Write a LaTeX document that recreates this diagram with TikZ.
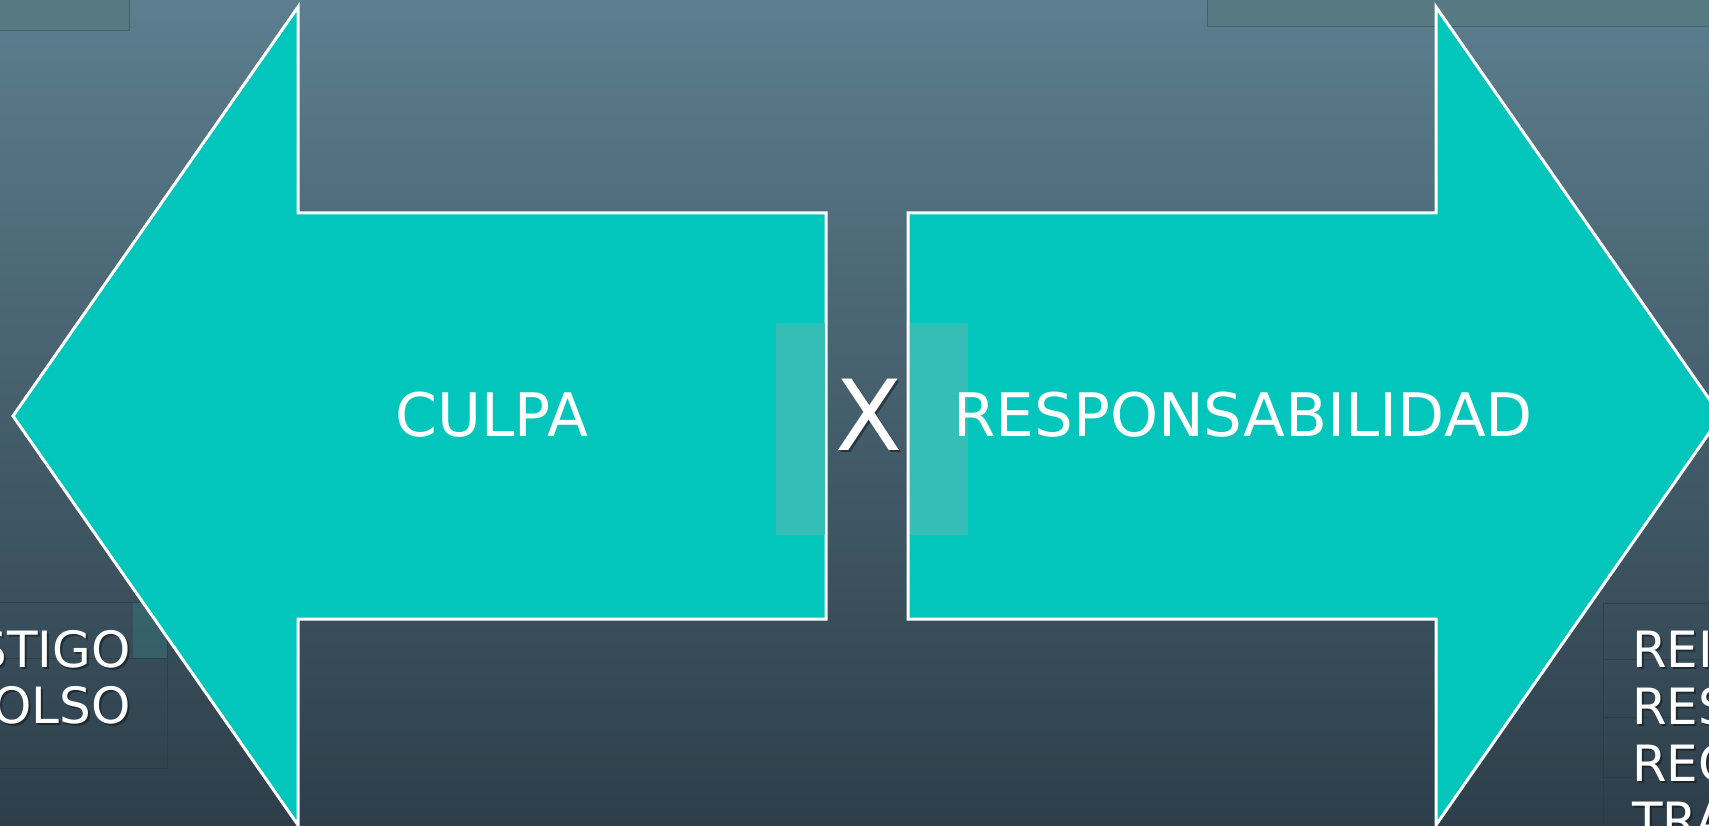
\documentclass[tikz,border=0pt]{standalone}
\usepackage{fontspec}
\setmainfont{DejaVu Sans}
\usepackage{graphicx}
\definecolor{bgtop}{RGB}{92,126,142}
\definecolor{bgbot}{RGB}{45,62,74}
\definecolor{teal}{RGB}{2,198,188}
\definecolor{tealhi}{RGB}{52,190,182}
\definecolor{boxfill}{RGB}{86,121,130}
\definecolor{boxline}{RGB}{70,96,106}
\definecolor{boxline2}{RGB}{40,56,66}
\tikzset{
  arrowshape/.style={fill=teal, draw=white, line width=3pt, line join=miter},
  bigtxt/.style={text=white, inner sep=0pt, font=\fontsize{60}{72}\selectfont},
  xtxt/.style={text=white, inner sep=0pt, font=\fontsize{98}{114}\selectfont},
  sidetxt/.style={text=white, inner sep=0pt, font=\fontsize{50}{60}\selectfont},
  shadowtxt/.style={text=black, text opacity=0.4},
  faintbox/.style={fill=boxfill, draw=boxline, line width=1pt},
  darkbox/.style={draw=boxline2, draw opacity=0.6, line width=1pt},
}
\begin{document}
\begin{tikzpicture}[x=1pt,y=-1pt]
\useasboundingbox (0,0) rectangle (1709,826);
\clip (0,0) rectangle (1709,826);
% background
\shade[top color=bgtop, bottom color=bgbot] (0,0) rectangle (1709,826);
% faint boxes at top
\path[faintbox] (-2,-2) rectangle (129,31);
\path[faintbox] (1207,-2) rectangle (1712,27);
% bottom-left box
\fill[tealhi, opacity=0.18] (133,602) rectangle (167,658);
\path[darkbox] (-2,602) rectangle (167,768);
\draw[boxline2, opacity=0.6, line width=1pt] (-2,658) -- (167,658);
% bottom-right box
\path[darkbox] (1603,603) rectangle (1712,830);
\draw[boxline2, opacity=0.5, line width=1pt] (1603,659) -- (1712,659);
\draw[boxline2, opacity=0.5, line width=1pt] (1603,717) -- (1712,717);
\draw[boxline2, opacity=0.5, line width=1pt] (1603,777) -- (1712,777);
% left arrow
\path[arrowshape] (13,416) -- (298,7) -- (298,213) -- (826,213) -- (826,619) -- (298,619) -- (298,825) -- cycle;
% right arrow
\path[arrowshape] (1721,416) -- (1436,7) -- (1436,213) -- (908,213) -- (908,619) -- (1436,619) -- (1436,825) -- cycle;
% translucent strips
\fill[tealhi] (776,323) rectangle (824.5,535);
\fill[tealhi] (909.5,323) rectangle (968,535);
% labels
\node[bigtxt, anchor=base] (culpa) at (492,436) {CULPA};
\node[bigtxt, anchor=base] (resp) at (1243,436) {\scalebox{1.02}[1]{RESPONSABILIDAD}};
\node[xtxt, shadowtxt, anchor=base] (xs) at (871,452) {X};
\node[xtxt, anchor=base] (x) at (869,450) {X};
% side texts
\node[sidetxt, shadowtxt, anchor=base east] (l1s) at (133,669) {STIGO};
\node[sidetxt, anchor=base east] (l1) at (131,667) {STIGO};
\node[sidetxt, shadowtxt, anchor=base east] (l2s) at (133,725) {OLSO};
\node[sidetxt, anchor=base east] (l2) at (131,723) {OLSO};
\node[sidetxt, shadowtxt, anchor=base west] (r1s) at (1634,669) {REI};
\node[sidetxt, anchor=base west] (r1) at (1632,667) {REI};
\node[sidetxt, shadowtxt, anchor=base west] (r2s) at (1634,726) {RES};
\node[sidetxt, anchor=base west] (r2) at (1632,724) {RES};
\node[sidetxt, shadowtxt, anchor=base west] (r3s) at (1634,783) {REC};
\node[sidetxt, anchor=base west] (r3) at (1632,781) {REC};
\node[sidetxt, shadowtxt, anchor=base west] (r4s) at (1634,840) {TRA};
\node[sidetxt, anchor=base west] (r4) at (1632,838) {TRA};
\end{tikzpicture}
\end{document}
